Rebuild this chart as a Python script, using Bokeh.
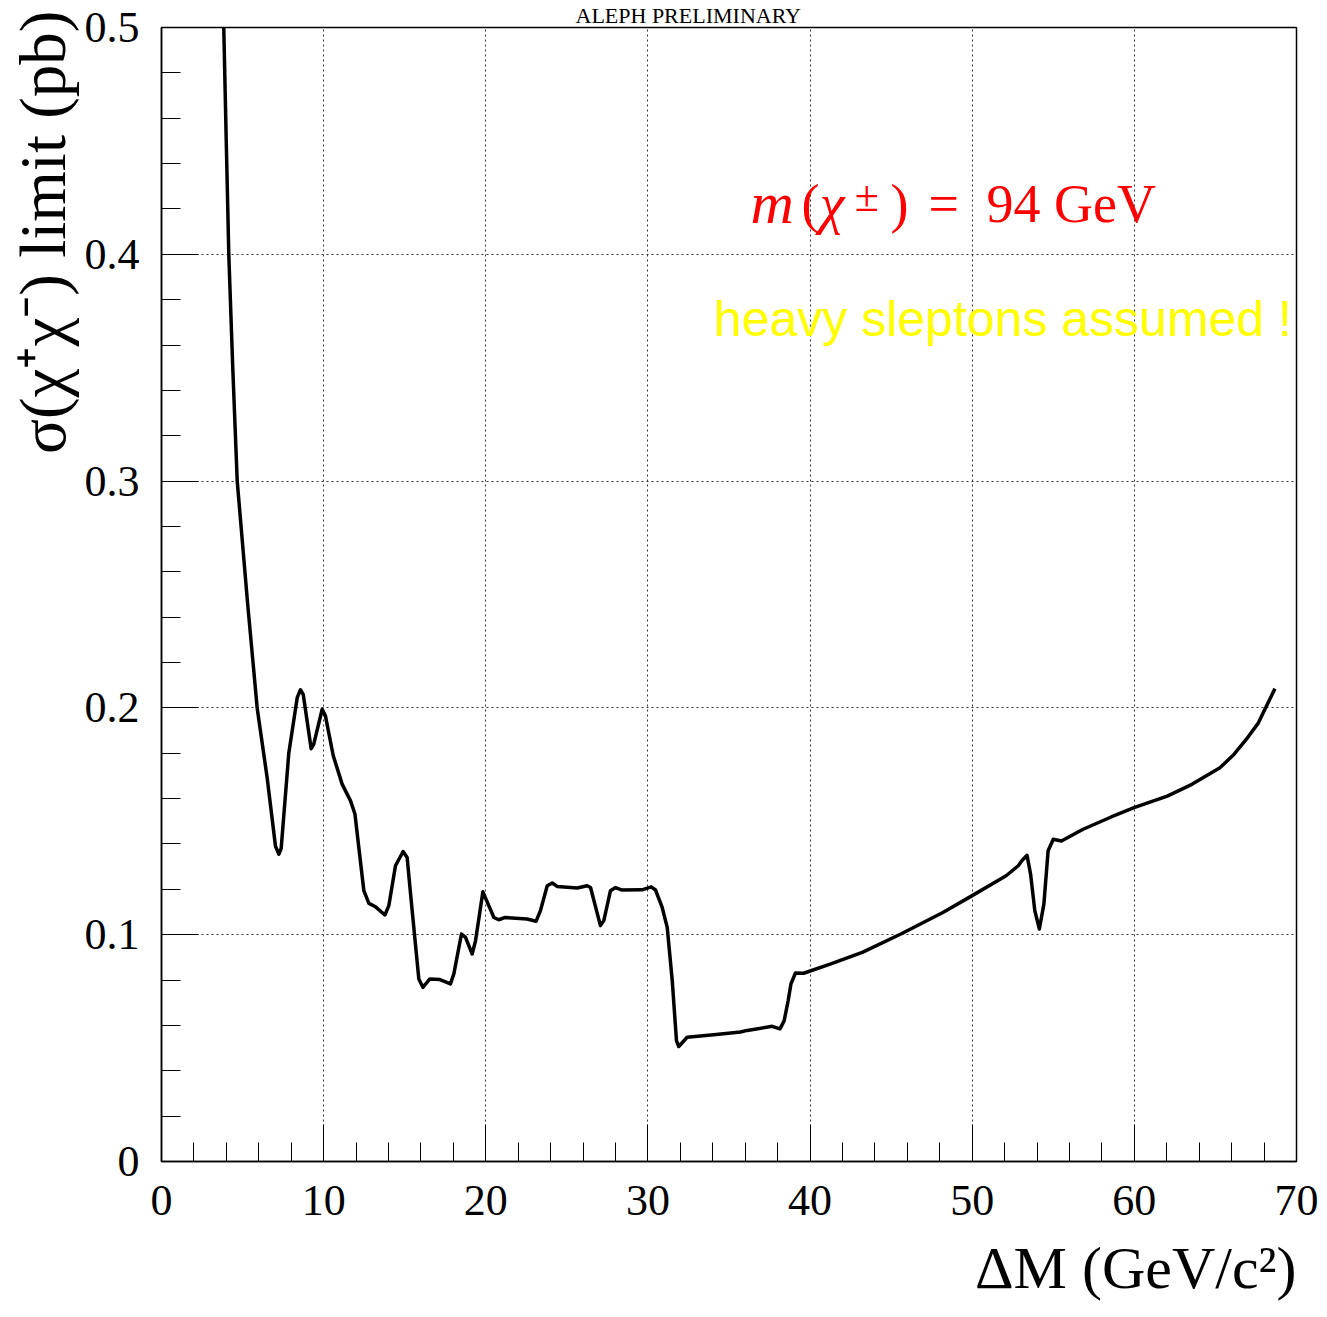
import math
from bokeh.plotting import figure
from bokeh.models import Range1d, FixedTicker, Label, Title
from bokeh.embed import file_html
from bokeh.resources import INLINE

# ---- data ----
delta_m = [3.84, 3.99, 4.15, 4.40, 4.67, 5.30, 5.90, 6.52, 7.03, 7.24, 7.38, 7.85,
           8.37, 8.57, 8.74, 9.23, 9.39, 9.91, 10.11, 10.59, 11.14, 11.66, 11.93,
           12.48, 12.79, 13.20, 13.78, 14.02, 14.43, 14.90, 15.15, 15.40, 15.87,
           16.12, 16.55, 17.17, 17.82, 18.03, 18.50, 18.75, 19.16, 19.37, 19.82,
           20.50, 20.80, 21.20, 22.55, 23.10, 23.37, 23.79, 24.10, 24.40, 25.64,
           26.25, 26.46, 27.07, 27.28, 27.69, 28.00, 28.41, 29.64, 30.20, 30.47,
           30.88, 31.19, 31.50, 31.76, 31.90, 32.42, 34.06, 35.71, 36.12, 37.66,
           38.14, 38.40, 38.65, 38.82, 39.10, 39.60, 41.28, 43.22, 45.60, 48.19,
           49.92, 52.09, 52.84, 53.06, 53.38, 53.60, 53.86, 54.14, 54.42, 54.68,
           55.00, 55.50, 56.84, 58.57, 59.98, 62.03, 63.55, 65.28, 66.14, 66.90,
           67.65, 68.09, 68.67]
sigma_limit = [0.500, 0.451, 0.400, 0.349, 0.300, 0.247, 0.200, 0.169, 0.139, 0.1355,
               0.138, 0.180, 0.2045, 0.208, 0.206, 0.182, 0.184, 0.1994, 0.1965, 0.179,
               0.1664, 0.159, 0.1532, 0.1194, 0.1138, 0.1123, 0.1087, 0.1128, 0.1304,
               0.1367, 0.134, 0.115, 0.0805, 0.0768, 0.0805, 0.0802, 0.0783, 0.0827,
               0.1003, 0.0988, 0.0915, 0.0974, 0.1189, 0.1076, 0.1066, 0.1076, 0.1069,
               0.1059, 0.1106, 0.1216, 0.1228, 0.1213, 0.1206, 0.1216, 0.1208, 0.104,
               0.1062, 0.1194, 0.1208, 0.1197, 0.1198, 0.1211, 0.1197, 0.112, 0.1032,
               0.0797, 0.0533, 0.0507, 0.0548, 0.0559, 0.0571, 0.0578, 0.0596, 0.0585,
               0.062, 0.071, 0.0783, 0.0831, 0.083, 0.0871, 0.0922, 0.1003, 0.1098,
               0.1169, 0.126, 0.1304, 0.1326, 0.135, 0.1267, 0.1106, 0.1025, 0.1135,
               0.137, 0.1421, 0.1413, 0.1465, 0.1519, 0.156, 0.1611, 0.1663, 0.1736,
               0.1795, 0.1861, 0.1934, 0.2, 0.2085]

x_tick_vals = [0, 10, 20, 30, 40, 50, 60, 70]
x_tick_labels = ["0", "10", "20", "30", "40", "50", "60", "70"]
y_tick_vals = [0, 0.1, 0.2, 0.3, 0.4, 0.5]
y_tick_labels = ["0", "0.1", "0.2", "0.3", "0.4", "0.5"]
x_minor = [v * 2 for v in range(0, 36)]
y_minor = [round(v * 0.02, 2) for v in range(0, 26)]

title_text = "ALEPH PRELIMINARY"
x_title = "ΔM (GeV/c²)"
y_title = "σ(χ⁺χ⁻) limit (pb)"
mass_note = ["m", "(", "χ", "±", ")", "=", "94 GeV"]
slepton_note = "heavy sleptons assumed !"

# ---- figure ----
p = figure(width=1327, height=1317, output_backend="svg", toolbar_location=None,
           x_range=Range1d(0, 70), y_range=Range1d(0, 0.5),
           min_border_left=161, min_border_right=31, min_border_top=26,
           min_border_bottom=156)
p.background_fill_color = "white"
p.border_fill_color = "white"
p.outline_line_color = "black"
p.outline_line_width = 1.5

# top title (cut in the reference; kept small but fully visible here)
p.title.text = title_text
p.title.align = "left"
p.title.offset = 414
p.title.standoff = 0
p.title.text_font = "Liberation Serif"
p.title.text_font_size = "22px"
p.title.text_font_style = "normal"
p.title.text_color = "black"

xt = FixedTicker(ticks=x_tick_vals, minor_ticks=x_minor)
yt = FixedTicker(ticks=y_tick_vals, minor_ticks=y_minor)
p.xaxis.ticker = xt
p.yaxis.ticker = yt
p.xgrid.ticker = xt
p.ygrid.ticker = yt
p.xaxis.major_label_overrides = {v: s for v, s in zip(x_tick_vals, x_tick_labels)}
p.yaxis.major_label_overrides = {v: s for v, s in zip(y_tick_vals, y_tick_labels)}

for ax in (p.xaxis[0], p.yaxis[0]):
    ax.axis_line_color = "black"
    ax.axis_line_width = 1.5
    ax.major_tick_in = 37
    ax.major_tick_out = 0
    ax.minor_tick_in = 19
    ax.minor_tick_out = 0
    ax.major_tick_line_color = "black"
    ax.minor_tick_line_color = "black"
    ax.major_tick_line_width = 1
    ax.minor_tick_line_width = 1
    ax.major_label_text_font = "Liberation Serif"
    ax.major_label_text_font_size = "44px"
    ax.major_label_text_color = "black"
p.xaxis.major_label_standoff = 24
p.yaxis.major_label_standoff = 22

for g in (p.xgrid[0], p.ygrid[0]):
    g.grid_line_color = "#333333"
    g.grid_line_dash = "2 3"
    g.grid_line_width = 1

# axis titles as side titles (aligned to the end like the reference)
p.add_layout(Title(text=x_title, align="right", text_font="Liberation Serif",
                   text_font_size="60px", text_font_style="normal",
                   text_color="black", standoff=31), "below")
p.add_layout(Title(text=y_title, align="right", text_font="Liberation Serif",
                   text_font_size="65px", text_font_style="normal",
                   text_color="black", standoff=5, offset=-17), "left")

p.line(delta_m, sigma_limit, line_color="black", line_width=3.5, line_join="round")

# ---- texts inside the frame ----
def lab(x, y, text, size, font="Liberation Serif", style="normal", color="black"):
    p.add_layout(Label(x=x, y=y, text=text, text_font=font, text_font_size=size,
                       text_font_style=style, text_color=color, text_align="left",
                       text_baseline="alphabetic"))

red = "#ff0000"
yb = 0.4220
lab(36.33, 0.4228, mass_note[0], "60px", style="italic", color=red)
lab(39.47, yb, mass_note[1], "54px", color=red)
lab(40.60, yb, mass_note[2], "56px", style="italic", color=red)
lab(42.75, 0.4254, mass_note[3], "44px", color=red)
lab(44.96, yb, mass_note[4], "54px", color=red)
lab(47.30, yb, mass_note[5], "54px", color=red)
lab(50.88, yb, mass_note[6], "54px", color=red)

lab(34.05, 0.3715, slepton_note, "50px", font="Liberation Sans", color="#ffff00")

open("out.html", "w").write(file_html(p, INLINE))
